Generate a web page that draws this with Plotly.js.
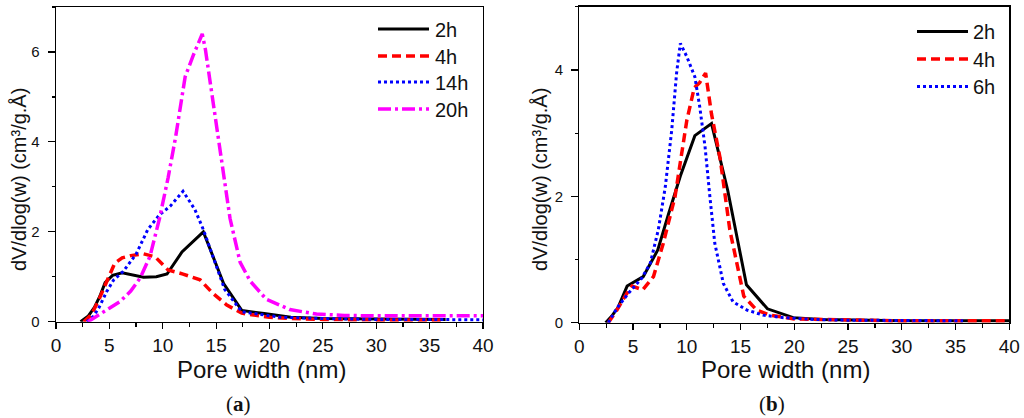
<!DOCTYPE html>
<html>
<head>
<meta charset="utf-8">
<script src="https://cdn.plot.ly/plotly-3.0.1.min.js"></script>
<style>
html,body{margin:0;padding:0;background:#fff;}
#chart{width:1024px;height:418px;}
</style>
</head>
<body>
<div id="chart"></div>
<script>
// ---------- Panel (a) ----------
const a_2h_x  = [2.3, 3.0, 3.6, 4.1, 4.6, 5.3, 6.2, 7.2, 8.2, 9.4, 10.4, 11.8, 13.8, 15.7, 17.4, 19.5, 22, 25, 30, 36.5];
const a_2h_y  = [0, 0.12, 0.32, 0.56, 0.87, 1.03, 1.09, 1.04, 0.99, 1.0, 1.06, 1.55, 2.0, 0.85, 0.25, 0.18, 0.1, 0.07, 0.06, 0.05];
const a_4h_x  = [2.6, 3.3, 4.0, 4.7, 5.5, 6.2, 7.0, 8.2, 9.3, 10.5, 11.9, 13.5, 14.7, 16.0, 17.4, 18.5, 20, 22, 25, 30, 36.5];
const a_4h_y  = [0, 0.15, 0.48, 0.85, 1.3, 1.42, 1.47, 1.51, 1.44, 1.15, 1.06, 0.93, 0.63, 0.37, 0.19, 0.15, 0.1, 0.07, 0.05, 0.04, 0.04];
const a_14h_x = [2.9, 3.5, 4.0, 4.75, 5.4, 6.3, 7.5, 8.6, 9.7, 10.7, 11.9, 13.0, 13.8, 15.0, 15.8, 17.4, 19, 21, 25, 30, 35, 40];
const a_14h_y = [0, 0.12, 0.3, 0.67, 0.93, 1.12, 1.5, 2.05, 2.38, 2.57, 2.9, 2.5, 2.05, 1.25, 0.72, 0.22, 0.16, 0.1, 0.07, 0.05, 0.05, 0.04];
const a_20h_x = [3.0, 4.0, 5.0, 6.0, 7.0, 7.9, 8.8, 9.7, 10.5, 11.2, 12.1, 12.9, 13.7, 14.0, 14.6, 15.4, 16.3, 17.25, 18.2, 19.7, 21.9, 24.4, 27, 30, 35, 40];
const a_20h_y = [0, 0.16, 0.3, 0.45, 0.68, 0.98, 1.45, 2.3, 3.2, 4.1, 5.45, 5.95, 6.4, 6.05, 5.05, 3.7, 2.3, 1.32, 0.9, 0.5, 0.27, 0.17, 0.14, 0.13, 0.13, 0.13];
const a_names = ["2h", "4h", "14h", "20h"];

// ---------- Panel (b) ----------
const b_2h_x = [2.45, 3.0, 3.6, 4.45, 5.95, 7.3, 8.3, 9.4, 10.75, 12.3, 13.8, 15.55, 17.5, 19.9, 22.5, 25, 30, 35, 40];
const b_2h_y = [0, 0.1, 0.24, 0.58, 0.73, 1.15, 1.72, 2.32, 2.96, 3.15, 2.1, 0.6, 0.22, 0.08, 0.05, 0.04, 0.03, 0.03, 0.03];
const b_4h_x = [2.7, 3.5, 4.4, 4.9, 5.9, 6.9, 7.8, 8.9, 10.0, 10.7, 11.2, 11.75, 12.3, 13.1, 14.0, 14.8, 15.3, 16.5, 17.7, 20, 25, 30, 35, 40];
const b_4h_y = [0, 0.2, 0.46, 0.58, 0.52, 0.73, 1.25, 1.99, 3.2, 3.72, 3.8, 3.95, 3.3, 2.6, 1.47, 0.83, 0.42, 0.2, 0.12, 0.06, 0.04, 0.03, 0.03, 0.03];
const b_6h_x = [2.7, 3.5, 4.55, 5.8, 6.6, 7.35, 8.0, 8.6, 9.05, 9.4, 10.0, 10.75, 11.2, 11.7, 12.15, 12.6, 13.4, 14.3, 15.6, 17.1, 19, 22, 25, 30, 35.7];
const b_6h_y = [0, 0.23, 0.46, 0.7, 0.94, 1.47, 2.15, 3.05, 3.95, 4.42, 4.21, 3.89, 3.42, 2.78, 1.99, 1.26, 0.62, 0.33, 0.2, 0.12, 0.08, 0.05, 0.04, 0.03, 0.03];
const b_names = ["2h", "4h", "6h"];

const xTitle = "Pore width (nm)";
const yTitle = "dV/dlog(w) (cm³/g.Å)";
const panelLabels = ["(<b>a</b>)", "(<b>b</b>)"];
const xTicks = [0, 5, 10, 15, 20, 25, 30, 35, 40];

// ---------- styles ----------
const W = 1024, H = 418;
const SANS = "Liberation Sans, Arial, sans-serif";
const styles = {
  "2h":  {color: "#000000", width: 3,   dash: "solid"},
  "4h":  {color: "#FF0000", width: 3.5, dash: "9px,5px"},
  "14h": {color: "#0000FF", width: 3,   dash: "3px,3px"},
  "6h":  {color: "#0000FF", width: 3,   dash: "3px,3px"},
  "20h": {color: "#FF00FF", width: 3.5, dash: "13px,4px,3px,4px"}
};

function tr(x, y, name, xa, ya) {
  return {x: x, y: y, name: name, type: "scatter", mode: "lines",
    xaxis: xa, yaxis: ya, line: Object.assign({}, styles[name]), showlegend: false,
    hoverinfo: "skip"};
}

const data = [
  tr(a_2h_x, a_2h_y, a_names[0], "x", "y"),
  tr(a_4h_x, a_4h_y, a_names[1], "x", "y"),
  tr(a_14h_x, a_14h_y, a_names[2], "x", "y"),
  tr(a_20h_x, a_20h_y, a_names[3], "x", "y"),
  tr(b_2h_x, b_2h_y, b_names[0], "x2", "y2"),
  tr(b_4h_x, b_4h_y, b_names[1], "x2", "y2"),
  tr(b_6h_x, b_6h_y, b_names[2], "x2", "y2")
];

function px(x) { return x / W; }
function py(y) { return 1 - y / H; }

function xax(dom) {
  return {domain: dom, range: [0, 40], tickvals: xTicks, ticktext: xTicks.map(String),
    ticks: "outside", ticklen: 6, tickwidth: 1.2, tickcolor: "#000",
    minor: {dtick: 2.5, tick0: 0, ticks: "outside", ticklen: 4, tickwidth: 1.2, tickcolor: "#000"},
    showline: true, linecolor: "#000", linewidth: 1.3, mirror: true,
    showgrid: false, zeroline: false, fixedrange: true,
    tickfont: {family: SANS, size: 19, color: "#111"}};
}
function yax(dom, max, anchor) {
  return {domain: dom, range: [0, max], dtick: 2, tick0: 0, anchor: anchor,
    ticks: "outside", ticklen: 7, tickwidth: 1.2, tickcolor: "#000",
    minor: {dtick: 1, tick0: 0, ticks: "outside", ticklen: 3, tickwidth: 1.2, tickcolor: "#000"},
    showline: true, linecolor: "#000", linewidth: 1.3, mirror: true,
    showgrid: false, zeroline: false, fixedrange: true, ticklabelstandoff: 5,
    tickfont: {family: SANS, size: 15, color: "#111"}};
}

const annotations = [];
const shapes = [];

function addText(text, x, y, size, family, angle, xanchor) {
  annotations.push({text: text, xref: "paper", yref: "paper", x: px(x), y: py(y),
    xanchor: xanchor || "center", yanchor: "middle", showarrow: false, textangle: angle || 0,
    font: {family: family, size: size, color: "#111"}});
}

// axis titles & panel labels
addText(xTitle, 261, 369, 24, SANS);
addText(xTitle, 785, 369, 24, SANS);
addText(yTitle, 19, 180, 20, SANS, -90);
addText(yTitle, 540, 180, 20, SANS, -90);
addText(panelLabels[0], 238, 404, 21, "Liberation Serif, Times New Roman, serif");
addText(panelLabels[1], 772, 404, 21, "Liberation Serif, Times New Roman, serif");

// custom legends
function legend(names, x0, x1, xt, ys) {
  names.forEach((n, i) => {
    const s = styles[n];
    shapes.push({type: "line", xref: "paper", yref: "paper",
      x0: px(x0), x1: px(x1), y0: py(ys[i]), y1: py(ys[i]),
      line: {color: s.color, width: s.width, dash: s.dash}});
    addText(n, xt, ys[i] + 1, 20, SANS, 0, "left");
  });
}
legend(a_names, 378, 429, 433, [29, 56, 82, 109]);
legend(b_names, 917, 968, 971, [31.5, 59, 86.5]);

const layout = {
  width: W, height: H,
  margin: {l: 0, r: 0, t: 0, b: 0},
  paper_bgcolor: "#fff", plot_bgcolor: "#fff",
  showlegend: false,
  xaxis: xax([px(56), px(483)]),
  yaxis: yax([py(321.7), py(7)], 7, "x"),
  xaxis2: Object.assign(xax([px(579.3), px(1009.3)]), {anchor: "y2"}),
  yaxis2: yax([py(322.7), py(6.7)], 5, "x2"),
  annotations: annotations,
  shapes: shapes
};
layout.xaxis.anchor = "y";

Plotly.newPlot("chart", data, layout, {staticPlot: true, displayModeBar: false});
</script>
</body>
</html>
